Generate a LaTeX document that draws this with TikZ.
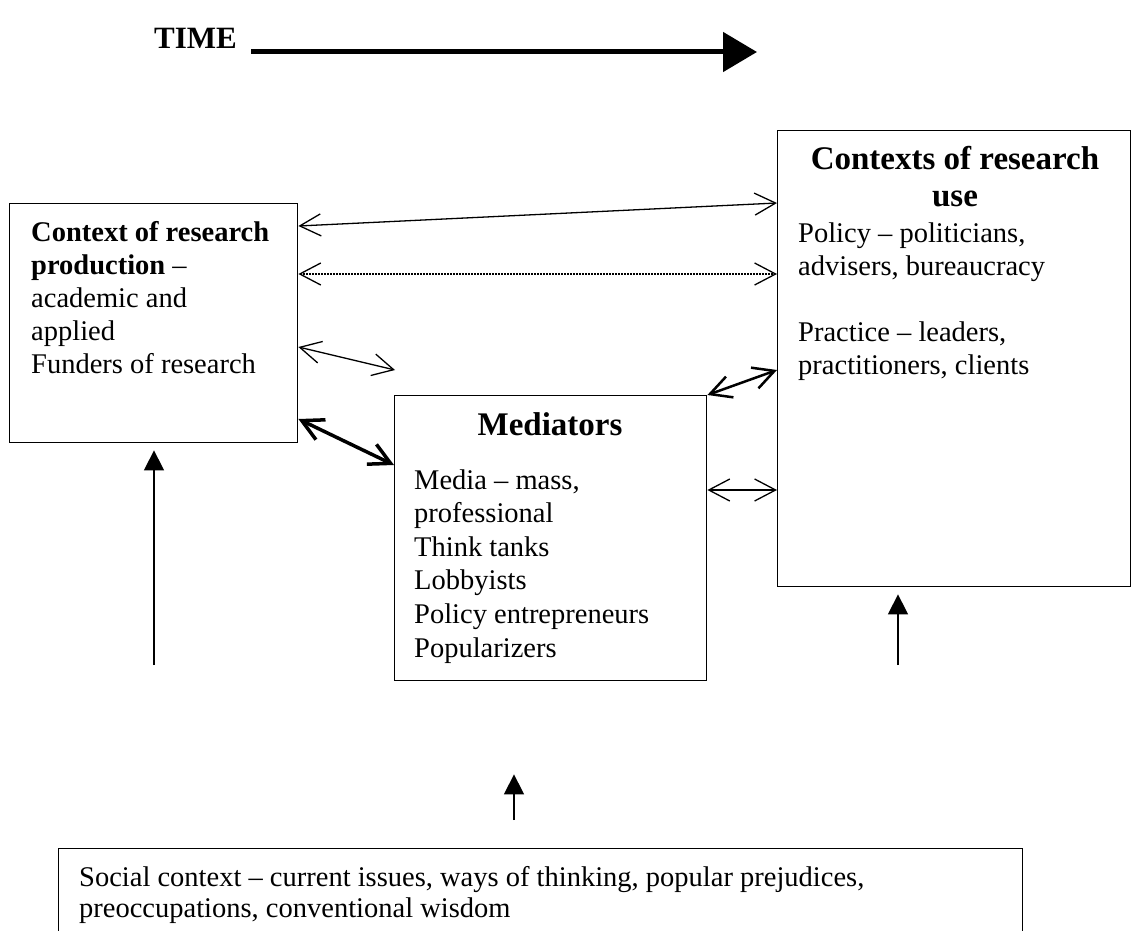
\documentclass[tikz,border=0pt]{standalone}
\usepackage{fontspec}
\setmainfont{Liberation Serif}
\usetikzlibrary{positioning, arrows.meta}

\tikzset{
  ctxbox/.style={draw, line width=1.4pt, inner sep=0pt, anchor=north west},
  boxtext/.style={anchor=base west, align=left, inner sep=0pt, font=\fontsize{28.5}{33}\selectfont},
  boxtitle/.style={anchor=base, align=center, inner sep=0pt, font=\fontsize{33}{37}\selectfont\bfseries},
  link/.style={{Straight Barb[length=21pt,width=22pt]}-{Straight Barb[length=21pt,width=22pt]}, line width=1.3pt},
  uparrow/.style={-{Triangle[length=20pt,width=20pt]}, line width=1.5pt},
}

\begin{document}
\begin{tikzpicture}[x=1pt, y=-1pt]
        \useasboundingbox (0,0) rectangle (1133,931);

        % time arrow
        \node (time) [anchor=base west, inner sep=0pt, font=\fontsize{31}{35}\selectfont\bfseries] at (154,49) {TIME};
        \coordinate (timeend) at (757,52);
        \draw [-{Triangle[length=34pt,width=39pt]}, line width=5pt] (timeend -| time.east) ++(14,0) -- (timeend);

        % boxes
        \node (prod) [ctxbox, minimum width=288pt, minimum height=239pt] at (9,203) {};
        \node (use) [ctxbox, minimum width=353pt, minimum height=456pt] at (777,130) {};
        \node (med) [ctxbox, minimum width=312pt, minimum height=285pt] at (394,395) {};
        \node (soc) [ctxbox, minimum width=964pt, minimum height=95pt] at (58,848) {};

        % texts (anchored at the baseline of their last line)
        \node (prodtext) [boxtext] at (31,373) {\textbf{Context of research}\\\textbf{production} --\\academic and\\applied\\Funders of research};
        \node (usetitle) [boxtitle] at (955,207) {Contexts of research\\use};
        \node (usetext) [boxtext] at (798,374) {Policy -- politicians,\\advisers, bureaucracy\\[33pt]Practice -- leaders,\\practitioners, clients};
        \node (medtitle) [boxtitle] at (550,435) {Mediators};
        \node (medtext) [boxtext, font=\fontsize{28.5}{33.6}\selectfont] at (414,657) {Media -- mass,\\professional\\Think tanks\\Lobbyists\\Policy entrepreneurs\\Popularizers};
        \node (soctext) [boxtext, font=\fontsize{28.5}{31}\selectfont] at (79,917) {Social context -- current issues, ways of thinking, popular prejudices,\\preoccupations, conventional wisdom};

        % links between contexts
        \draw [link] ([yshift=-23pt]prod.north east) -- ([yshift=-73pt]use.north west);
        \draw [link, dash pattern=on 1.5pt off 1.5pt] ([yshift=-71pt]prod.north east) -- ([yshift=-144pt]use.north west);
        \coordinate (free) at (395,370);
        \draw [link] ([yshift=-144pt]prod.north east) -- (free);
        \draw [link, line width=3.5pt] ([yshift=-216pt]prod.north east) -- ([yshift=-70pt]med.north west);
        \draw [link, line width=2.5pt] (med.north east) -- ([yshift=-240pt]use.north west);
        \draw [link] ([yshift=-95pt]med.north east) coordinate (m6) -- (m6 -| use.west);

        % influences from below
        \coordinate (upl) at (154,665);
        \draw [uparrow, shorten >=7pt] (upl) -- (upl |- prod.south);
        \coordinate (upr) at (898,665);
        \draw [uparrow, shorten >=7pt] (upr) -- (upr |- use.south);
        \coordinate (upm) at (514,820);
        \draw [uparrow, shorten >=93pt] (upm) -- (upm |- med.south);
    \end{tikzpicture}
\end{document}
